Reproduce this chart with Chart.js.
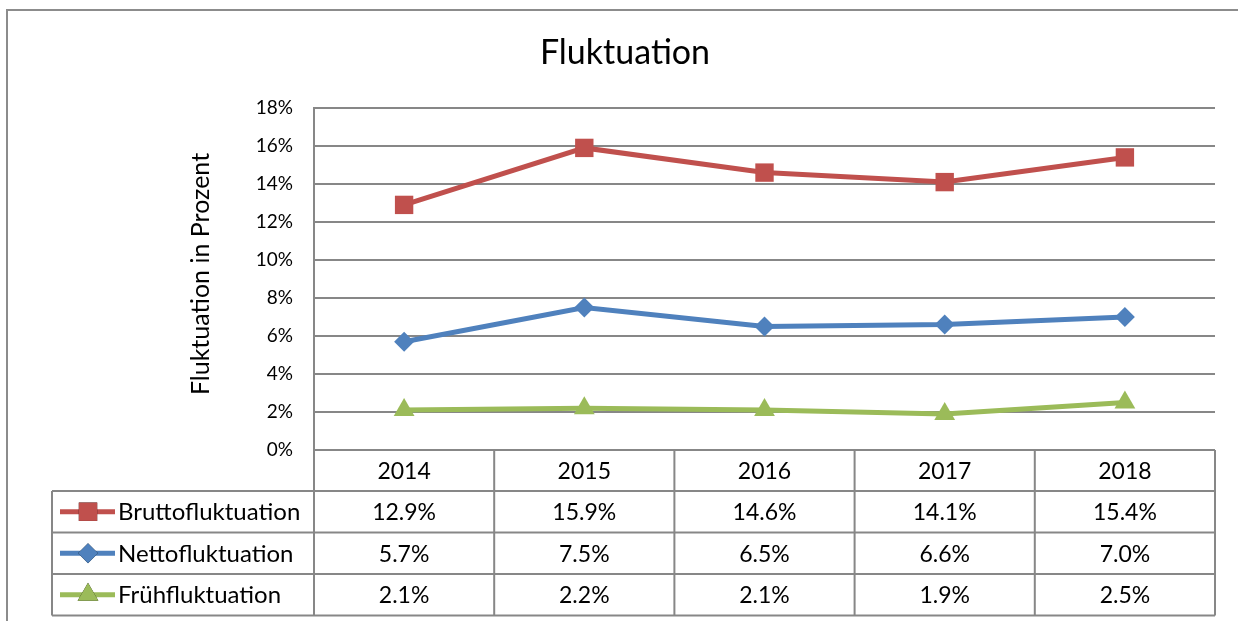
<!DOCTYPE html>
<html>
<head>
<meta charset="utf-8">
<script src="https://cdn.jsdelivr.net/npm/chart.js@4"></script>
<style>
  body { margin: 0; background: #fff; }
  #wrap { width: 1238px; height: 621px; position: relative; }
</style>
</head>
<body>
<div id="wrap"><canvas id="fluktChart" width="1238" height="621"></canvas></div>
<script>
const years = ['2014', '2015', '2016', '2017', '2018'];
const brutto = [12.9, 15.9, 14.6, 14.1, 15.4];
const netto = [5.7, 7.5, 6.5, 6.6, 7.0];
const frueh = [2.1, 2.2, 2.1, 1.9, 2.5];
const seriesNames = ['Bruttofluktuation', 'Nettofluktuation', 'Frühfluktuation'];
const yTicks = [0, 2, 4, 6, 8, 10, 12, 14, 16, 18];

const FONT = 'Lato, "Open Sans", sans-serif';
const GRID = '#878787';

// Titel, Achsentitel und Datentabelle unter dem Diagramm
const tablePlugin = {
    id: 'fluktTable',
    afterDraw(chart) {
        const ctx = chart.ctx;
        const area = chart.chartArea;
        const x = chart.scales.x;
        const colW = (area.right - area.left) / years.length;
        const legendLeft = 52;
        const rowH = 41.5;
        const headTop = area.bottom;
        const headBottom = headTop + 41;

        ctx.save();

        // äußerer Rahmen
        ctx.strokeStyle = '#8c8c8c';
        ctx.lineWidth = 2;
        ctx.beginPath();
        ctx.moveTo(7, 621);
        ctx.lineTo(7, 10);
        ctx.lineTo(1238, 10);
        ctx.stroke();

        // Titel
        ctx.fillStyle = '#000';
        ctx.textAlign = 'center';
        ctx.textBaseline = 'middle';
        ctx.font = '34px ' + FONT;
        ctx.fillText('Fluktuation', 625, 53);

        // Y-Achsentitel
        ctx.save();
        ctx.translate(201, 274);
        ctx.rotate(-Math.PI / 2);
        ctx.font = '25px ' + FONT;
        ctx.fillText('Fluktuation in Prozent', 0, 0);
        ctx.restore();

        // Tabellenlinien
        ctx.strokeStyle = GRID;
        ctx.lineWidth = 2;
        ctx.beginPath();
        for (let r = 0; r <= seriesNames.length; r++) {
            const y = headBottom + r * rowH;
            ctx.moveTo(legendLeft, y);
            ctx.lineTo(area.right, y);
        }
        ctx.moveTo(legendLeft, headBottom);
        ctx.lineTo(legendLeft, headBottom + seriesNames.length * rowH);
        for (let c = 0; c <= years.length; c++) {
            const xx = area.left + c * colW;
            ctx.moveTo(xx, headTop);
            ctx.lineTo(xx, headBottom + seriesNames.length * rowH);
        }
        ctx.stroke();

        // Jahreszahlen
        ctx.fillStyle = '#000';
        ctx.font = '23px ' + FONT;
        years.forEach((yr, i) => {
            ctx.fillText(yr, x.getPixelForValue(i), (headTop + headBottom) / 2 + 1);
        });

        // Zeilen mit Legende und Werten
        chart.data.datasets.forEach((ds, r) => {
            const cy = headBottom + r * rowH + rowH / 2;
            // Legendensymbol
            ctx.strokeStyle = ds.borderColor;
            ctx.lineWidth = 5;
            ctx.beginPath();
            ctx.moveTo(60, cy);
            ctx.lineTo(115, cy);
            ctx.stroke();
            Chart.helpers.drawPoint(ctx, {
                pointStyle: ds.pointStyle,
                radius: ds.pointRadius,
                borderWidth: 0
            }, 88, cy);
            ctx.fillStyle = ds.borderColor;
            ctx.fill();

            ctx.fillStyle = '#000';
            ctx.textAlign = 'left';
            ctx.font = '24px ' + FONT;
            ctx.fillText(ds.label, 118, cy + 1);
            ctx.textAlign = 'center';
            ctx.font = '23px ' + FONT;
            ds.data.forEach((v, i) => {
                ctx.fillText(v.toFixed(1) + '%', x.getPixelForValue(i), cy + 1);
            });
        });

        ctx.restore();
    }
};

const ctx = document.getElementById('fluktChart').getContext('2d');
new Chart(ctx, {
    type: 'line',
    data: {
        labels: years,
        datasets: [
            {
                label: seriesNames[0],
                data: brutto,
                borderColor: '#C0504D',
                backgroundColor: '#C0504D',
                borderWidth: 5,
                pointStyle: 'rect',
                pointRadius: 13,
                pointBorderWidth: 0,
                tension: 0
            },
            {
                label: seriesNames[1],
                data: netto,
                borderColor: '#4F81BD',
                backgroundColor: '#4F81BD',
                borderWidth: 5,
                pointStyle: 'rectRot',
                pointRadius: 10,
                pointBorderWidth: 0,
                tension: 0
            },
            {
                label: seriesNames[2],
                data: frueh,
                borderColor: '#9BBB59',
                backgroundColor: '#9BBB59',
                borderWidth: 5,
                pointStyle: 'triangle',
                pointRadius: 12,
                pointBorderWidth: 0,
                tension: 0
            }
        ]
    },
    options: {
        responsive: false,
        devicePixelRatio: 1,
        animation: false,
        layout: { padding: { left: 0, top: 108, right: 23, bottom: 171 } },
        plugins: {
            legend: { display: false },
            title: { display: false },
            tooltip: { enabled: false }
        },
        scales: {
            x: {
                type: 'category',
                offset: true,
                display: false
            },
            y: {
                min: 0,
                max: 18,
                afterFit(scale) { scale.width = 314; },
                afterBuildTicks(scale) { scale.ticks = yTicks.map(v => ({ value: v })); },
                grid: { color: GRID, lineWidth: 2, drawTicks: false },
                border: { color: GRID, width: 2 },
                ticks: {
                    padding: 21,
                    color: '#000',
                    font: { family: FONT, size: 19 },
                    callback: v => v + '%'
                }
            }
        }
    },
    plugins: [tablePlugin]
});
</script>
</body>
</html>
